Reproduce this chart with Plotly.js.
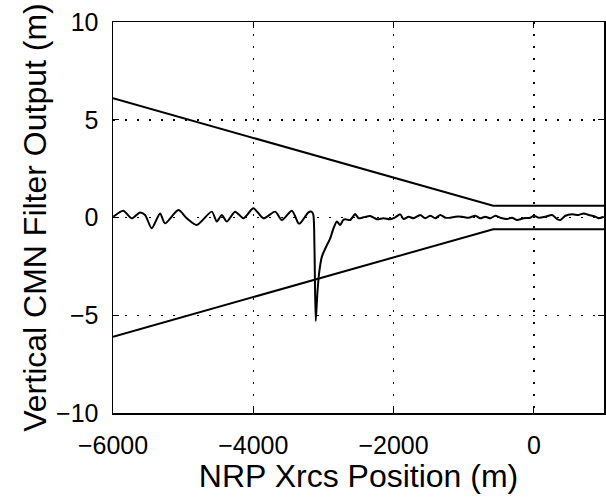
<!DOCTYPE html>
<html>
<head>
<meta charset="utf-8">
<script src="https://cdn.plot.ly/plotly-3.0.1.min.js"></script>
<style>html,body{margin:0;padding:0;background:#fff;}#chart{width:606px;height:498px;}</style>
</head>
<body>
<div id="chart"></div>
<script>
// Filter output signal
const signalX = [-5996,-5853,-5733,-5615,-5543,-5448,-5329,-5258,-5068,-4948,-4806,-4592,-4520,-4449,-4378,-4259,-4140,-3998,-3855,-3688,-3593,-3450,-3356,-3332,-3213,-3170,-3145,-3128,-3110,-3085,-3060,-3022,-2950,-2903,-2856,-2808,-2761,-2718,-2690,-2618,-2547,-2500,-2428,-2333,-2237,-2143,-2047,-1976,-1905,-1857,-1786,-1715,-1619,-1548,-1476,-1405,-1334,-1262,-1191,-1120,-1024,-930,-834,-763,-692,-620,-549,-478,-382,-311,-239,-145,-49,-2,69,165,260,331,379,450,546,640,711,783,878,925,997];
const signalY = [0.04,0.35,-0.04,0.26,0.13,-0.55,0.21,-0.30,0.38,-0.04,-0.38,0.30,-0.21,0.13,-0.21,0.30,-0.04,0.47,-0.04,0.30,-0.13,0.35,-0.30,-0.30,0.26,0.30,0.15,-1.5,-5.3,-3.8,-2.8,-2.0,-1.41,-1.07,-0.55,-0.21,-0.38,-0.13,-0.09,-0.13,0.18,-0.04,0.01,0.08,-0.09,-0.04,-0.09,0.01,0.16,-0.08,0.04,-0.04,0.13,-0.04,0.09,-0.04,0.13,-0.01,-0.01,0.04,0.04,-0.01,0.09,-0.04,0.04,-0.04,0.09,-0.01,-0.08,-0.01,-0.13,-0.04,-0.01,0.09,-0.01,0.04,0.13,-0.08,-0.13,0.09,0.16,0.13,0.21,0.13,0.04,-0.04,0.04];
// Threshold envelope
const envX = [-6000,-580,1000];
const upperY = [6.1,0.6,0.6];
const lowerY = [-6.1,-0.6,-0.6];
const xTicks = [-6000,-4000,-2000,0];
const yTicks = [-10,-5,0,5,10];

const lineStyle = {color:'#000', width:2};
const traces = [
  {x:signalX, y:signalY, mode:'lines', line:{color:'#000', width:2, shape:'spline', smoothing:0.7}, hoverinfo:'skip'},
  {x:envX, y:upperY, mode:'lines', line:lineStyle, hoverinfo:'skip'},
  {x:envX, y:lowerY, mode:'lines', line:lineStyle, hoverinfo:'skip'}
];
const fam = 'Liberation Sans, Arial, Helvetica, sans-serif';
const tickFont = {family:fam, size:25, color:'#000'};
const titleFont = {family:fam, size:32, color:'#000'};
const axisCommon = {
  showline:true, linecolor:'#000', linewidth:1.5, mirror:'allticks',
  ticks:'inside', ticklen:6, tickwidth:1, tickcolor:'#000',
  showgrid:true, gridcolor:'#000', gridwidth:1.5, griddash:'1.5px,10.5px',
  zeroline:false, tickfont:tickFont
};
const fmt = v => v<0 ? '\u2212'+Math.abs(v) : String(v);
const layout = {
  width:606, height:498,
  margin:{l:113, r:2, t:22, b:85},
  paper_bgcolor:'#fff', plot_bgcolor:'#fff',
  showlegend:false,
  font:tickFont,
  xaxis:Object.assign({}, axisCommon, {
    range:[-6000,1000], tickvals:xTicks, ticktext:xTicks.map(fmt), ticklabelstandoff:9,
    title:{text:'NRP Xrcs Position (m)', font:titleFont, standoff:4}
  }),
  yaxis:Object.assign({}, axisCommon, {
    range:[-10,10], tickvals:yTicks, ticktext:yTicks.map(fmt), ticklabelstandoff:8,
    title:{text:'Vertical CMN Filter Output (m)', font:titleFont, standoff:0}
  })
};
Plotly.newPlot('chart', traces, layout, {displayModeBar:false, staticPlot:true});
</script>
</body>
</html>
